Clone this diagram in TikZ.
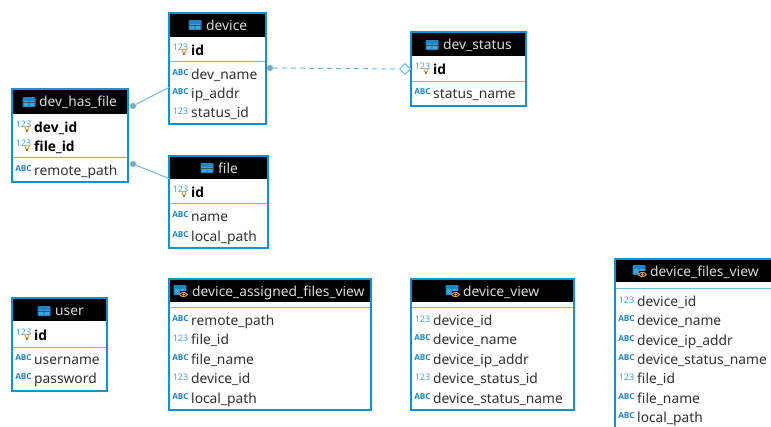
\documentclass[tikz,border=0pt]{standalone}
\usepackage{fontspec}
\usetikzlibrary{shapes.geometric}
\setmainfont{Noto Sans}
\newfontfamily\keyfont{Open Sans}
\definecolor{edgeblue}{HTML}{0E93D3}
\definecolor{lineblue}{HTML}{6CBDE3}
\definecolor{icoblue}{HTML}{1D86C6}
\definecolor{numblue}{HTML}{3FA5DF}
\definecolor{dotgrey}{HTML}{7FA6BC}
\definecolor{bulborange}{HTML}{E8A33D}
\definecolor{inktext}{HTML}{33302E}
\definecolor{headtext}{HTML}{DADADA}
\tikzset{
  tableframe/.style={draw=edgeblue, line width=2pt, fill=white, inner sep=0pt, outer sep=0pt, anchor=north west},
  tablehead/.style={fill=black, inner sep=0pt, outer sep=0pt, anchor=north west},
  tabletitle/.style={text=headtext, font=\fontsize{13.8}{15}\selectfont, inner sep=0pt, anchor=base west},
  sepline/.style={draw=lineblue, line width=1pt},
  rowtext/.style={text=inktext, font=\fontsize{13.8}{15}\selectfont, inner sep=0pt, anchor=base west},
  abcrow/.style={rowtext},
  numrow/.style={rowtext},
  keyrow/.style={rowtext, text=black, font=\keyfont\fontsize{13.8}{15}\selectfont\bfseries},
  abcico/.style={text=icoblue, font=\keyfont\fontsize{8.2}{9}\selectfont\bfseries, inner sep=0pt},
  numico/.style={text=numblue, font=\fontsize{9}{10}\selectfont, inner sep=0pt},
  keyico/.style={numico, yshift=1.5pt},
  link/.style={draw=lineblue, line width=1pt},
  linkdot/.style={circle, draw=lineblue, fill=dotgrey, line width=.7pt, minimum size=5.5pt, inner sep=0pt},
  linkopen/.style={diamond, draw=lineblue, fill=white, line width=1pt, minimum size=11pt, inner sep=0pt},
  tableicon/.pic={
    \fill[icoblue, rounded corners=1pt] (-6.5,-5) rectangle (6.5,5);
    \fill[numblue] (-5.2,-1) rectangle (-.6,3.8) (.6,-1) rectangle (5.2,3.8);
    \draw[black!70, line width=.8pt] (-6.5,0) -- (6.5,0);
  },
  viewicon/.pic={
    \fill[icoblue, rounded corners=1pt] (-6.5,-6) rectangle (6.5,4);
    \fill[numblue] (-5.2,-2) rectangle (-.6,2.5) (.6,-2) rectangle (5.2,2.5);
    \fill[black] (0,0) rectangle (8,7.5);
    \draw[bulborange, line width=.9pt] (-.5,3.5) .. controls (1.8,.6) and (5,.6) .. (7.5,3.5) .. controls (5,6.4) and (1.8,6.4) .. (-.5,3.5);
    \fill[bulborange] (3.5,3.5) circle (1.3);
  },
  bulb/.pic={
    \draw[bulborange, fill=white, line width=.9pt] (0,-1) circle (2);
    \draw[bulborange!70!black, line width=1.1pt] (-1,2) -- (1,2);
  }
}
% name, left, top, width, height, head height, line under key, title x, title
\newcommand{\dbtable}[9]{
  \node[tableframe, minimum width=#4, minimum height=#5] (#1) at (#2,#3) {};
  \node[tablehead, minimum width=#4-2, minimum height=#6-1] (#1-head) at (#2+1,#3+1) {};
  \draw[sepline] (#2+1,#7+.5) -- (#2+#4-1,#7+.5);
  \node[tabletitle] (#1-title) at (#8,#3+17) {#9};
}
% name, table left, y, kind, text
\newcommand{\dbrow}[5]{
  \node[#4ico] (#1-ico) at (#2+11.5,#3-1) {\csname #4label\endcsname};
  \node[#4row] (#1) at (#2+22,#3+5) {#5};
}
\newcommand{\abclabel}{ABC}
\newcommand{\numlabel}{123}
\newcommand{\keylabel}{123}
\begin{document}
\begin{tikzpicture}[x=1pt, y=-1pt]
  \path[use as bounding box, clip] (0,0) rectangle (771,426);
  \fill[white] (0,0) rectangle (771,426);

  \dbtable{device}{169}{13}{97}{111}{24}{61}{206}{device}
  \dbtable{devhasfile}{12}{89}{116}{93}{25}{157}{39}{dev\_has\_file}
  \dbtable{file}{169}{156}{99}{92}{23}{203}{218}{file}
  \dbtable{devstatus}{411}{32}{115}{74}{24}{81}{443}{dev\_status}
  \dbtable{user}{12}{298}{95}{93}{23}{347}{55}{user}
  \dbtable{assigned}{169}{279}{202}{131}{23}{307}{192}{device\_assigned\_files\_view}
  \dbtable{deviceview}{411}{279}{163}{131}{23}{307}{463}{device\_view}
  \dbtable{filesview}{615}{259}{170}{180}{23}{288}{650}{device\_files\_view}

  \foreach \x/\y in {195/25, 29/102, 207/168, 432/45, 44/311}
    \pic at (\x,\y) {tableicon};
  \foreach \x/\y in {180/291, 452/291, 639/271}
    \pic at (\x,\y) {viewicon};

  \foreach \nm/\kd/\y/\txt in {deviceid/key/50/id, devname/abc/74/dev\_name, ipaddr/abc/93/ip\_addr, statusid/num/112/status\_id}
    \dbrow{\nm}{169}{\y}{\kd}{\txt};
  \foreach \nm/\kd/\y/\txt in {devid/key/127/dev\_id, fileid/key/146/file\_id, remotepath/abc/170/remote\_path}
    \dbrow{\nm}{12}{\y}{\kd}{\txt};
  \foreach \nm/\kd/\y/\txt in {filekey/key/192/id, filename/abc/216/name, localpath/abc/236/local\_path}
    \dbrow{\nm}{169}{\y}{\kd}{\txt};
  \foreach \nm/\kd/\y/\txt in {statuskey/key/69/id, statusname/abc/93/status\_name}
    \dbrow{\nm}{411}{\y}{\kd}{\txt};
  \foreach \nm/\kd/\y/\txt in {userkey/key/335/id, username/abc/359/username, password/abc/378/password}
    \dbrow{\nm}{12}{\y}{\kd}{\txt};
  \foreach \nm/\kd/\y/\txt in {arpath/abc/320/remote\_path, afid/num/339/file\_id, afname/abc/359/file\_name, adid/num/378/device\_id, alpath/abc/398/local\_path}
    \dbrow{\nm}{169}{\y}{\kd}{\txt};
  \foreach \nm/\kd/\y/\txt in {vdid/num/320/device\_id, vdname/abc/339/device\_name, vdip/abc/359/device\_ip\_addr, vdsid/num/378/device\_status\_id, vdsname/abc/398/device\_status\_name}
    \dbrow{\nm}{411}{\y}{\kd}{\txt};
  \foreach \nm/\kd/\y/\txt in {fdid/num/301/device\_id, fdname/abc/320/device\_name, fdip/abc/340/device\_ip\_addr, fdsname/abc/359/device\_status\_name, ffid/num/378/file\_id, ffname/abc/398/file\_name, flpath/abc/417/local\_path}
    \dbrow{\nm}{615}{\y}{\kd}{\txt};

  \foreach \x/\y in {184/52, 27/129, 27/148, 184/194, 426/71, 27/337}
    \pic at (\x,\y) {bulb};

  \node[linkdot] (hasdevdot) at (133,106) {};
  \node[linkdot] (hasfiledot) at (133,164) {};
  \node[linkdot] (devstatusdot) at (270,68) {};
  \node[linkopen] (statusopen) at (405,69) {};
  \draw[link] (hasdevdot) -- (device.west |- ipaddr.north);
  \draw[link] (hasfiledot) -- (file-head.south west);
  \draw[link, dash pattern=on 5pt off 4pt] (devstatusdot) -- (statusopen);
\end{tikzpicture}
\end{document}
